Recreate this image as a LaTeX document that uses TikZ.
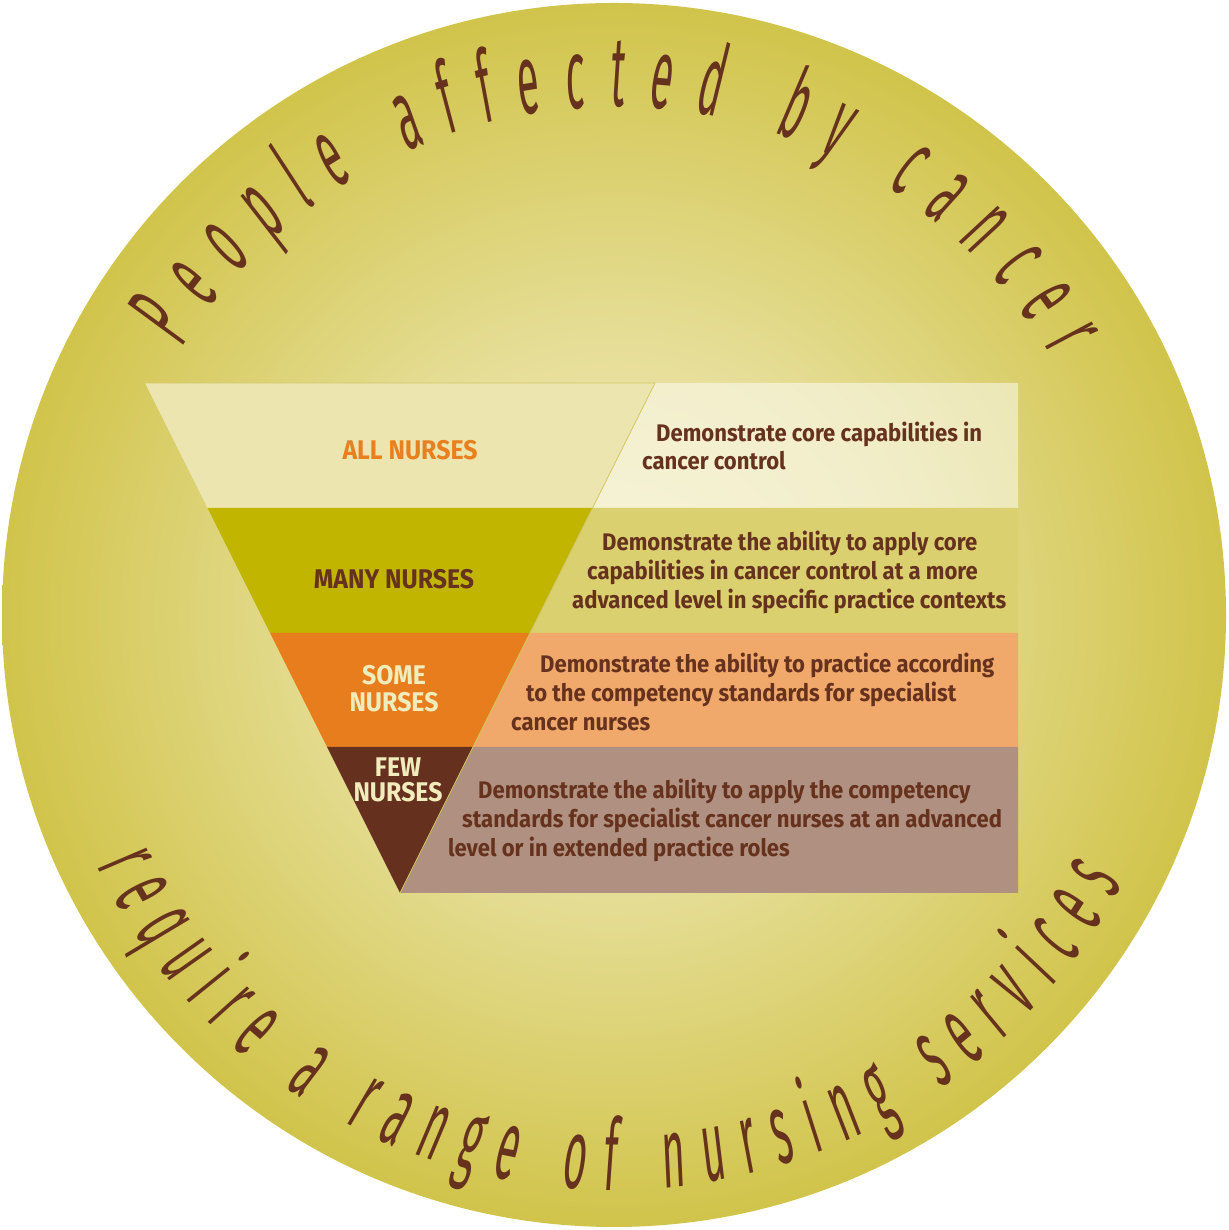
\documentclass[tikz,border=0pt]{standalone}
\usepackage{fontspec}
\setmainfont{Fira Sans}
\newfontfamily\bodyfont{Fira Sans}[FakeStretch=0.92]
\newfontfamily\arcfont{Fira Sans}[FakeStretch=0.4,FakeSlant=0.06]
\newcommand\arcstyle{\arcfont\fontsize{100}{100}\selectfont}
\usetikzlibrary{decorations.text}
\definecolor{cin}{HTML}{EFEAB4}
\definecolor{cmid}{HTML}{E6DE98}
\definecolor{cout}{HTML}{D1C44B}
\definecolor{txtbrown}{HTML}{66321E}
\definecolor{bandA}{HTML}{ECE5B0}
\definecolor{bandB}{HTML}{C2B500}
\definecolor{bandBr}{HTML}{DAD06F}
\definecolor{bandC}{HTML}{E87D1E}
\definecolor{bandCr}{HTML}{F0A96B}
\definecolor{bandD}{HTML}{66301E}
\definecolor{bandDr}{HTML}{B09080}
\definecolor{labelorange}{HTML}{E8801F}
\definecolor{labelcream}{HTML}{F1ECBC}
\definecolor{edgeline}{HTML}{D2C763}
\pgfdeclareradialshading{bgshade}{\pgfpoint{0bp}{0bp}}{color(0bp)=(cin); color(11bp)=(cmid); color(25bp)=(cout); color(50bp)=(cout)}
\begin{document}
\begin{tikzpicture}[x=1pt,y=1pt,
  desc/.style={anchor=base west, inner sep=0, text=txtbrown, font=\bodyfont\bfseries\fontsize{24}{28}\selectfont},
  lab/.style={anchor=base, inner sep=0, font=\bodyfont\bfseries\fontsize{27}{27}\selectfont},
  edge/.style={draw=edgeline, line width=0.8pt}
]
\useasboundingbox (0,0) rectangle (1228,1230);
\coordinate (C) at (614,615);
\shade[shading=bgshade] (C) circle[radius=612];

% triangle corners and band boundaries
\coordinate (TL) at (145,847);
\coordinate (TR) at (655,847);
\coordinate (L1) at (207.5,722);
\coordinate (R1) at (592.5,722);
\coordinate (L2) at (270,597);
\coordinate (R2) at (530,597);
\coordinate (L3) at (327,483);
\coordinate (R3) at (473,483);
\coordinate (A) at (400,337);
\coordinate (E0) at (1018,847);
\coordinate (E1) at (1018,722);
\coordinate (E2) at (1018,597);
\coordinate (E3) at (1018,483);
\coordinate (E4) at (1018,337);

% right hand bands
\fill[white, fill opacity=0.5] (TR) -- (E0) -- (E1) -- (R1) -- cycle;
\fill[bandBr] (R1) -- (E1) -- (E2) -- (R2) -- cycle;
\fill[bandCr] (R2) -- (E2) -- (E3) -- (R3) -- cycle;
\fill[bandDr] (R3) -- (E3) -- (E4) -- (A) -- cycle;

% triangle bands
\fill[bandA] (TL) -- (TR) -- (R1) -- (L1) -- cycle;
\fill[bandB] (L1) -- (R1) -- (R2) -- (L2) -- cycle;
\fill[bandC] (L2) -- (R2) -- (R3) -- (L3) -- cycle;
\fill[bandD] (L3) -- (R3) -- (A) -- cycle;
\draw[edge] (TL) -- (TR) -- (A);

% labels
\node[lab, text=labelorange] (all) at (410,770) {ALL NURSES};
\node[lab, text=txtbrown] (many) at (394,641) {MANY NURSES};
\node[lab, text=labelcream] (some1) at (394,545) {SOME};
\node[lab, text=labelcream] (some2) at (394,518) {NURSES};
\node[lab, text=labelcream] (few1) at (398,453) {FEW};
\node[lab, text=labelcream] (few2) at (398,428) {NURSES};

% descriptions
\node[desc] (d1a) at (656,788) {Demonstrate core capabilities in};
\node[desc] (d1b) at (642,760) {cancer control};
\node[desc] (d2a) at (602,679) {Demonstrate the ability to apply core};
\node[desc] (d2b) at (587,650) {capabilities in cancer control at a more};
\node[desc] (d2c) at (572,621) {advanced level in specific practice contexts};
\node[desc] (d3a) at (540,557) {Demonstrate the ability to practice according};
\node[desc] (d3b) at (526,528) {to the competency standards for specialist};
\node[desc] (d3c) at (511,499) {cancer nurses};
\node[desc] (d4a) at (478,431) {Demonstrate the ability to apply the competency};
\node[desc] (d4b) at (462,402) {standards for specialist cancer nurses at an advanced};
\node[desc] (d4c) at (448,373) {level or in extended practice roles};

% arc texts
\path[decorate, decoration={text along path, text align=fit to path, text color=txtbrown,
   text={|\arcstyle|People affected by cancer}}]
  ([shift={(148.4:508)}]C) arc[start angle=148.4, end angle=30.5, radius=508];
\path[decorate, decoration={text along path, text align=fit to path, text color=txtbrown,
   text={|\arcstyle|require a range of nursing services}}]
  ([shift={(205.8:575)}]C) arc[start angle=205.8, end angle=332.2, radius=575];
\end{tikzpicture}
\end{document}
